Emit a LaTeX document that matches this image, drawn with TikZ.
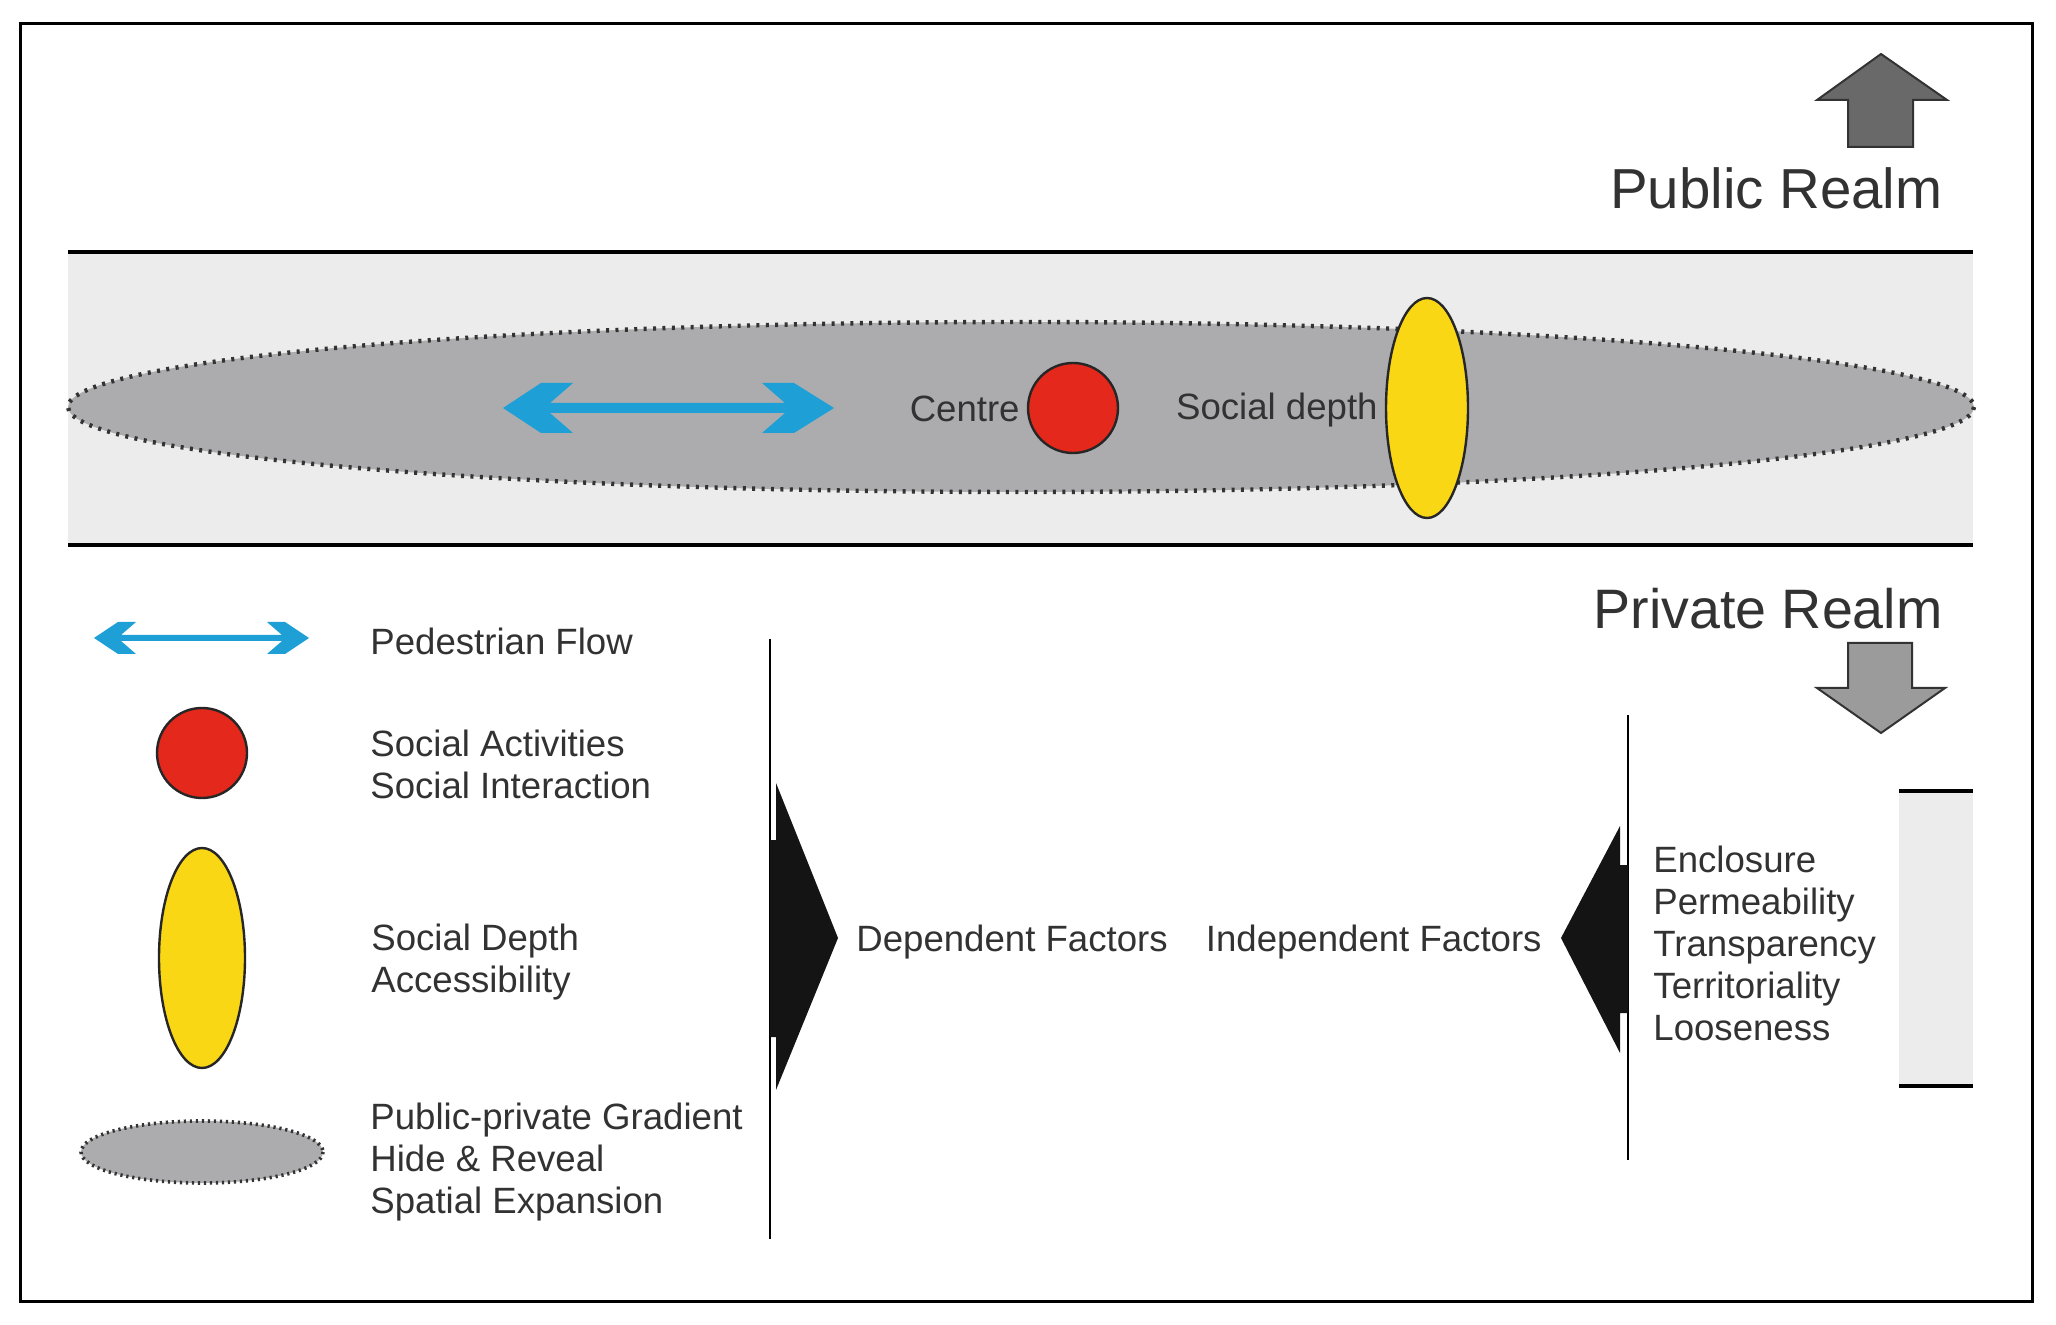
\documentclass[tikz,border=0pt]{standalone}
\usepackage{fontspec}
\setmainfont{Liberation Sans}
\definecolor{bandgray}{RGB}{236,236,236}
\definecolor{ellgray}{RGB}{172,172,174}
\definecolor{flowblue}{RGB}{30,160,215}
\definecolor{socred}{RGB}{228,40,28}
\definecolor{depthyellow}{RGB}{250,215,20}
\definecolor{txt}{RGB}{50,50,50}
\definecolor{uparrow}{RGB}{105,105,105}
\definecolor{downarrow}{RGB}{155,155,155}
\begin{document}
\begin{tikzpicture}[x=0.5pt,y=-0.5pt,
  lbl/.style={font=\fontsize{18.3}{21}\selectfont, text=txt, inner sep=0pt, align=left},
  realm/.style={font=\fontsize{28.2}{32}\selectfont, text=txt, inner sep=0pt},
  dotline/.style={line width=2.2pt, dash pattern=on 1.5pt off 3.2pt, draw=black!80},
  dotlinesmall/.style={line width=1.8pt, dash pattern=on 1.1pt off 1.9pt, draw=black!80},
  edge/.style={line width=2.2pt},
  vline/.style={line width=1.3pt},
  blob/.style={line width=1.2pt, draw=black!85}]
\useasboundingbox (0,0) rectangle (2056,1325);
\fill[white] (0,0) rectangle (2056,1325);
\draw[line width=1.5pt] (20,24) rectangle (2032,1301);

% band
\fill[bandgray] (68,252) rectangle (1973,545);
\draw[edge] (68,252) -- (1973,252);
\draw[edge] (68,545) -- (1973,545);
\draw[dotline, fill=ellgray] (1021,407) ellipse [x radius=953, y radius=85];

% flow arrow in band
\fill[flowblue] (503,408) -- (541,383) -- (573,383) -- (550,403) -- (785,403) -- (762,383) -- (794,383) -- (834,408)
  -- (794,433) -- (762,433) -- (785,413) -- (550,413) -- (573,433) -- (541,433) -- cycle;

\node[lbl, anchor=mid east] (centre) at (1020,416) {Centre};
\draw[blob, fill=socred] (1073,408) circle [radius=45];
\node[lbl, anchor=mid east] (sdepth) at (1378,414) {Social depth};
\draw[blob, fill=depthyellow] (1427,408) ellipse [x radius=41, y radius=110];

% realm titles and arrows
\node[realm, anchor=base east] (public) at (1943,209) {Public Realm};
\node[realm, anchor=base east, font=\fontsize{27.8}{32}\selectfont] (private) at (1943,629) {Private Realm};
\draw[line width=1pt, draw=black!80, fill=uparrow] (1881,54) -- (1947,100) -- (1913,100) -- (1913,147) -- (1848,147) -- (1848,100) -- (1817,100) -- cycle;
\draw[line width=1pt, draw=black!80, fill=downarrow] (1848,643) -- (1912,643) -- (1912,688) -- (1945,688) -- (1881,733) -- (1817,688) -- (1848,688) -- cycle;

% legend
\fill[flowblue] (94,638) -- (118,622) -- (136,622) -- (121,635) -- (282,635) -- (267,622) -- (285,622) -- (309,638)
  -- (285,654) -- (267,654) -- (282,641) -- (121,641) -- (136,654) -- (118,654) -- cycle;
\node[lbl, anchor=mid west] (l1) at (370,649) {Pedestrian Flow};
\draw[blob, fill=socred] (202,753) circle [radius=45];
\node[lbl, anchor=base west] (l2) at (370,798.5) {Social Activities\\Social Interaction};
\draw[blob, fill=depthyellow] (202,958) ellipse [x radius=43, y radius=110];
\node[lbl, anchor=base west] (l3) at (371,992.5) {Social Depth\\Accessibility};
\draw[dotlinesmall, fill=ellgray] (202,1152) ellipse [x radius=121, y radius=31];
\node[lbl, anchor=base west] (l4) at (370,1213.5) {Public-private Gradient\\Hide \& Reveal\\Spatial Expansion};

% factors
\draw[vline] (770,639) -- (770,1239);
\fill[black!92] (770,840) -- (776,840) -- (776,783) -- (838,938) -- (776,1090) -- (776,1037) -- (770,1037) -- cycle;
\node[lbl, anchor=mid west] (dep) at (856,946) {Dependent Factors};
\node[lbl, anchor=mid east] (indep) at (1542,946) {Independent Factors};
\draw[vline] (1628,715) -- (1628,1160);
\fill[black!92] (1628,865) -- (1620,865) -- (1620,826) -- (1561,938) -- (1620,1053) -- (1620,1013) -- (1628,1013) -- cycle;
\node[lbl, anchor=base west] (r1) at (1653,1040.5) {Enclosure\\Permeability\\Transparency\\Territoriality\\Looseness};

% small band
\fill[bandgray] (1899,791) rectangle (1973,1086);
\draw[edge] (1899,791) -- (1973,791);
\draw[edge] (1899,1086) -- (1973,1086);
\end{tikzpicture}
\end{document}
